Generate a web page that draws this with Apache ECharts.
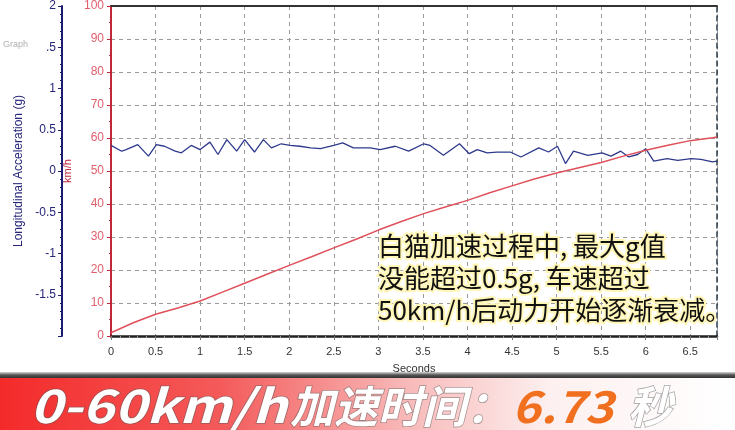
<!DOCTYPE html>
<html>
<head>
<meta charset="utf-8">
<script src="https://cdn.jsdelivr.net/npm/echarts@6/dist/echarts.min.js"></script>
<style>
html,body{margin:0;padding:0;background:#fff;}
#chart{width:735px;height:430px;}
</style>
</head>
<body>
<div id="chart"></div>
<script>
// ---- data ----
const accelTime = [0,0.12,0.17,0.30,0.42,0.51,0.60,0.72,0.79,0.90,1.00,1.11,1.20,1.30,1.41,1.50,1.61,1.71,1.80,1.91,2.01,2.12,2.24,2.35,2.50,2.60,2.72,2.91,3.02,3.19,3.34,3.51,3.58,3.73,3.91,4.02,4.11,4.22,4.33,4.48,4.60,4.80,4.91,5.01,5.10,5.19,5.35,5.51,5.61,5.72,5.81,5.91,6.00,6.09,6.24,6.36,6.51,6.62,6.75,6.80];
const accelG = [0.31,0.24,0.26,0.32,0.18,0.32,0.30,0.24,0.22,0.31,0.26,0.35,0.20,0.38,0.24,0.38,0.23,0.38,0.28,0.33,0.31,0.30,0.28,0.27,0.31,0.34,0.28,0.28,0.26,0.30,0.24,0.33,0.31,0.19,0.33,0.21,0.26,0.22,0.23,0.23,0.17,0.28,0.23,0.30,0.09,0.24,0.19,0.22,0.18,0.24,0.17,0.20,0.27,0.12,0.15,0.13,0.15,0.14,0.11,0.12];
const speedTime = [0,0.25,0.5,0.75,1,1.25,1.5,1.75,2,2.25,2.5,2.75,3,3.25,3.5,3.75,4,4.25,4.5,4.75,5,5.25,5.5,5.75,6,6.25,6.5,6.75,6.8];
const speedKmh = [1.0,4.0,6.6,8.5,10.6,13.3,16.0,18.7,21.4,24.0,26.7,29.3,32.1,34.6,37.0,39.1,41.1,43.4,45.5,47.6,49.4,51.0,52.6,54.5,56.3,57.8,59.2,60.1,60.3];
const accelTicks = [-2,-1.5,-1,-0.5,0,0.5,1,1.5,2];
const accelTickLabels = ['','-1.5','-1','-0.5','0','0.5','1','.5','2'];
const noteLines = ['白猫加速过程中, 最大g值','没能超过0.5g, 车速超过','50km/h后动力开始逐渐衰减。'];
const bannerTitle = ['0-60km/h', '加速时间：'];
const bannerValue = '6.73';
const bannerUnit = '秒';

const accelData = accelTime.map((t,i)=>[t, accelG[i]]);
const speedData = speedTime.map((t,i)=>[t, speedKmh[i]]);

const chart = echarts.init(document.getElementById('chart'));
const base = 'Liberation Sans, Arial, sans-serif';
const cjk = '"Noto Sans CJK SC", sans-serif';
const gridGray = '#9a9a9a';
const bannerShadow = {stroke:'rgba(90,90,90,0.55)', lineWidth:1.5, shadowColor:'rgba(0,0,0,0.8)', shadowOffsetX:2, shadowOffsetY:2, shadowBlur:3};

const option = {
  animation:false,
  grid:{left:111, right:18, top:5, bottom:94, containLabel:false},
  xAxis:[{
    type:'value', min:0, max:6.8, interval:0.5, position:'bottom',
    axisLine:{onZero:false, lineStyle:{color:'#222', width:2.5}},
    axisTick:{show:true, length:4, lineStyle:{color:'#777'}},
    minorTick:{show:true, splitNumber:5, length:2, lineStyle:{color:'#999'}},
    axisLabel:{color:'#333', fontSize:11, fontFamily:base, margin:10, showMaxLabel:false},
    splitLine:{show:true, lineStyle:{color:gridGray, type:[4,4], width:1}},
    name:'Seconds', nameLocation:'middle', nameGap:27,
    nameTextStyle:{color:'#333', fontSize:11, fontFamily:base}
  },{
    type:'value', min:0, max:6.8, position:'top',
    axisLine:{show:true, onZero:false, lineStyle:{color:'#333', width:2}},
    axisTick:{show:false}, axisLabel:{show:false}, splitLine:{show:false}
  }],
  yAxis:[{
    type:'value', min:0, max:100, interval:10, position:'left',
    axisLine:{show:true, onZero:false, lineStyle:{color:'#c0283a', width:2}},
    axisTick:{show:true, length:4, lineStyle:{color:'#c0283a'}},
    minorTick:{show:true, splitNumber:2, length:2, lineStyle:{color:'#c0283a'}},
    axisLabel:{color:'#e0606e', fontSize:12, fontFamily:base, margin:7},
    splitLine:{show:true, lineStyle:{color:gridGray, type:[4,4], width:1}},
    name:'km/h', nameLocation:'middle', nameGap:31, nameRotate:90,
    nameTextStyle:{color:'#c0283a', fontSize:11, fontFamily:base}
  },{
    type:'value', min:-2, max:2, interval:0.5, position:'left', offset:49,
    axisLine:{show:true, onZero:false, lineStyle:{color:'#1c1c70', width:2}},
    axisTick:{show:true, length:4, lineStyle:{color:'#1c1c70'}},
    minorTick:{show:true, splitNumber:5, length:2, lineStyle:{color:'#1c1c70'}},
    axisLabel:{color:'#25257a', fontSize:12, fontFamily:base, margin:6,
      formatter:function(v){ const i = accelTicks.indexOf(Math.round(v*10)/10); return i>=0 ? accelTickLabels[i] : ''; }},
    splitLine:{show:false},
    name:'Longitudinal Acceleration (g)', nameLocation:'middle', nameGap:34, nameRotate:90,
    nameTextStyle:{color:'#25257a', fontSize:12, fontFamily:base}
  },{
    type:'value', min:0, max:1, position:'right',
    axisLine:{show:true, onZero:false, lineStyle:{color:'#2b3b48', width:1.5, type:[5,4]}},
    axisTick:{show:false}, axisLabel:{show:false}, splitLine:{show:false}
  }],
  series:[{
    type:'line', xAxisIndex:0, yAxisIndex:1, data:accelData, showSymbol:false, symbol:'none',
    lineStyle:{color:'#2e3a8c', width:1.3}, z:3
  },{
    type:'line', xAxisIndex:0, yAxisIndex:0, data:speedData, showSymbol:false, symbol:'none',
    lineStyle:{color:'#e0505a', width:1.5}, z:4
  }],
  graphic:[
    {type:'text', left:3, top:40, style:{text:'Graph', fill:'#b0b0b0', font:'9px '+base}},
    // note lines
    {type:'text', x:378, y:246, z:50, style:{text:noteLines[0], font:'26px '+cjk, fill:'#111', stroke:'#fff6b8', lineWidth:4, verticalAlign:'middle'}},
    {type:'text', x:378, y:278, z:50, style:{text:noteLines[1], font:'26px '+cjk, fill:'#111', stroke:'#fff6b8', lineWidth:4, verticalAlign:'middle'}},
    {type:'text', x:378, y:310, z:50, style:{text:noteLines[2], font:'26px '+cjk, fill:'#111', stroke:'#fff6b8', lineWidth:4, verticalAlign:'middle'}},
    // banner
    {type:'rect', shape:{x:0, y:372, width:735, height:6}, z:40,
      style:{fill:new echarts.graphic.LinearGradient(0,0,0,1,[{offset:0,color:'#d8d8d8'},{offset:0.5,color:'#555'},{offset:1,color:'#333'}])}},
    {type:'rect', shape:{x:0, y:378, width:735, height:52}, z:40,
      style:{fill:new echarts.graphic.LinearGradient(0,0,1,0,[{offset:0,color:'#f42a2a'},{offset:0.3,color:'#f45a5a'},{offset:0.55,color:'#f8b8b8'},{offset:0.75,color:'#fdf0f0'},{offset:1,color:'#ffffff'}])}},
    {type:'text', x:30, y:406, scaleX:1.18, z:45, style:Object.assign({text:bannerTitle[0], font:'italic bold 46px '+cjk, fill:'#fff', verticalAlign:'middle'}, bannerShadow)},
    {type:'text', x:290, y:406, z:45, style:Object.assign({text:bannerTitle[1], font:'italic bold 44px '+cjk, fill:'#fff', verticalAlign:'middle'}, bannerShadow)},
    {type:'text', x:512, y:406, scaleX:1.1, z:45, style:{text:bannerValue, font:'italic bold 44px '+cjk, fill:'#f07020', verticalAlign:'middle', shadowColor:'rgba(0,0,0,0.35)', shadowOffsetX:1, shadowOffsetY:1, shadowBlur:2}},
    {type:'text', x:628, y:406, z:45, style:Object.assign({text:bannerUnit, font:'italic bold 44px '+cjk, fill:'#fff', verticalAlign:'middle'}, bannerShadow)}
  ]
};
chart.setOption(option);
</script>
</body>
</html>
